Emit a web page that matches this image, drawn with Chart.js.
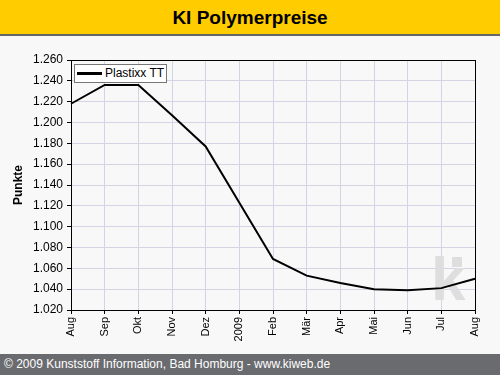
<!DOCTYPE html>
<html>
<head>
<meta charset="utf-8">
<script src="https://cdn.jsdelivr.net/npm/chart.js@4"></script>
<style>
  body { margin: 0; width: 500px; height: 375px; background: #f8f8f8; position: relative; overflow: hidden; font-family: "Liberation Sans", Arial, sans-serif; }
  #head { position: absolute; left: 0; top: 0; width: 500px; height: 34px; background: #ffcc00; border-bottom: 2px solid #666; text-align: center; font-weight: bold; font-size: 19px; line-height: 36px; color: #000; }
  #wrap { position: absolute; left: 0; top: 36px; width: 500px; height: 318px; }
  #foot { position: absolute; left: 0; top: 354px; width: 500px; height: 21px; background: #6a6b6f; color: #fff; font-size: 12px; line-height: 21px; padding-left: 4px; box-sizing: border-box; }
  #legend { position: absolute; left: 74px; top: 64px; height: 17px; padding: 0 2px 0 30px; background: #fff; border: 1px solid #777; font-size: 12px; line-height: 17px; white-space: nowrap; }
  #legend span.ln { position: absolute; left: 2px; top: 7px; width: 25px; height: 3px; background: #000; }
</style>
</head>
<body>
<div id="head">KI Polymerpreise</div>
<div id="wrap"><canvas id="chart" width="500" height="318"></canvas></div>
<div id="legend"><span class="ln"></span>Plastixx TT</div>
<div id="foot">© 2009 Kunststoff Information, Bad Homburg - www.kiweb.de</div>
<script>
const months = ['Aug', 'Sep', 'Okt', 'Nov', 'Dez', '2009', 'Feb', 'Mär', 'Apr', 'Mai', 'Jun', 'Jul', 'Aug'];
const plastixx = [1218, 1236, 1236, 1207, 1177, 1123, 1069, 1053, 1046, 1040, 1039, 1041, 1050];
const yMin = 1020;
const yMax = 1260;
const yStep = 20;

function fmt(v) {
  v = Math.round(v);
  return Math.floor(v / 1000) + '.' + String(v % 1000).padStart(3, '0');
}

const frame = {
  id: 'frame',
  beforeDatasetsDraw(chart) {
    const a = chart.chartArea;
    const ctx = chart.ctx;
    ctx.save();
    ctx.fillStyle = '#dedede';
    ctx.font = 'bold 62px "Liberation Sans", Arial, sans-serif';
    ctx.textBaseline = 'alphabetic';
    ctx.fillText('k', a.right - 44, a.bottom - 10);
    ctx.fillRect(a.right - 23, a.bottom - 53, 10, 10);
    ctx.restore();
  },
  afterDraw(chart) {
    const a = chart.chartArea;
    const ctx = chart.ctx;
    ctx.save();
    ctx.strokeStyle = '#000';
    ctx.lineWidth = 1;
    ctx.strokeRect(Math.round(a.left) + 0.5, Math.round(a.top) + 0.5, Math.round(a.right - a.left), Math.round(a.bottom - a.top));
    ctx.restore();
  }
};

new Chart(document.getElementById('chart'), {
  type: 'line',
  data: {
    labels: months,
    datasets: [{
      label: 'Plastixx TT',
      data: plastixx,
      borderColor: '#000',
      borderWidth: 2,
      pointRadius: 0,
      tension: 0,
      fill: false
    }]
  },
  options: {
    responsive: false,
    animation: false,
    layout: { padding: { top: 24, right: 25, left: 0, bottom: 0 } },
    scales: {
      x: {
        offset: false,
        afterFit: s => { s.height = 44; },
        grid: { color: '#d4d4e4', tickColor: '#000', tickLength: 4 },
        border: { color: '#000' },
        ticks: {
          color: '#000',
          autoSkip: false,
          maxRotation: 90,
          minRotation: 90,
          padding: 3,
          font: { family: '"Liberation Sans", Arial, sans-serif', size: 11 }
        }
      },
      y: {
        min: yMin,
        max: yMax,
        afterFit: s => { s.width = 71; },
        grid: { color: '#d4d4e4', tickColor: '#000', tickLength: 4 },
        border: { color: '#000' },
        title: {
          display: true,
          text: 'Punkte',
          color: '#000',
          padding: { top: 11, bottom: 0 },
          font: { family: '"Liberation Sans", Arial, sans-serif', size: 12, weight: 'bold' }
        },
        ticks: {
          stepSize: yStep,
          color: '#000',
          padding: 4,
          callback: v => fmt(v),
          font: { family: '"Liberation Sans", Arial, sans-serif', size: 12 }
        }
      }
    },
    plugins: {
      legend: { display: false },
      tooltip: { enabled: false }
    }
  },
  plugins: [frame]
});
</script>
</body>
</html>
